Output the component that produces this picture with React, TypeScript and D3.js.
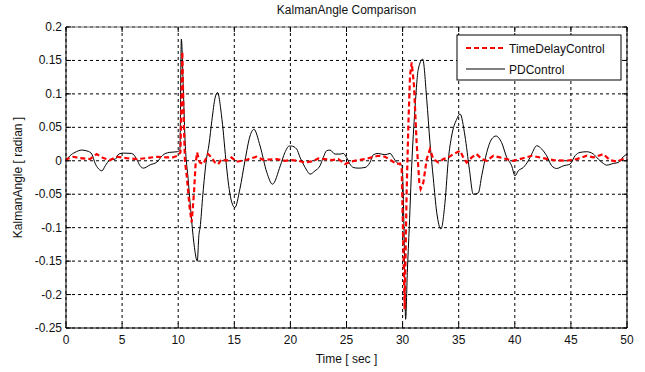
import * as d3 from "d3";

const W = 645;
const H = 372;
const margin = { top: 27, right: 18, bottom: 44, left: 66 };

// PD controller response [time, angle]
const pdTime = [
  0, 0.35, 0.8, 1.4, 2.0, 2.3, 2.6, 2.9, 3.2, 3.5, 3.9, 4.4, 4.7, 5.1, 5.85, 6.3, 6.6, 6.9, 7.5, 8.1,
  8.6, 9.2, 9.9, 10.15, 10.28, 10.45, 10.6, 10.9, 11.2, 11.45, 11.7, 11.85, 11.95, 12.2, 12.5, 12.75,
  13.0, 13.3, 13.5, 13.9, 14.3, 14.5, 14.7, 15.05, 15.5, 15.95, 16.4, 16.75, 17.3, 17.9, 18.4, 19.1,
  19.5, 19.9, 20.1, 20.56, 20.86, 21.15, 21.45, 21.75, 22.19, 22.64, 22.93, 23.23, 23.53, 23.98,
  24.42, 24.72, 25.0, 25.31, 25.6, 26.05, 26.65, 27.09, 27.39, 27.83, 28.43, 28.88, 29.17, 29.47,
  29.77, 29.95, 30.12, 30.27, 30.42, 30.6, 30.81, 31.1, 31.4, 31.79, 32.15, 32.44, 32.74, 33.04,
  33.42, 33.78, 34.08, 34.37, 34.82, 35.12, 35.56, 35.95, 36.3, 36.75, 37.05, 37.5, 37.94, 38.32,
  38.83, 39.28, 39.72, 40.02, 40.31, 40.76, 41.2, 41.5, 41.95, 42.4, 42.84, 43.29, 43.73, 44.33,
  44.92, 45.37, 45.81, 46.41, 47.0, 47.44, 47.89, 48.19, 48.78, 49.23, 49.67, 50.0,
];
const pdAngle = [
  0, 0.0075, 0.0125, 0.016, 0.014, 0.01, -0.004, -0.012, -0.015, -0.0075, 0.001, 0.0025, 0.01,
  0.0115, 0.011, 0.0025, -0.0075, -0.011, -0.006, -0.002, 0.008, 0.0125, 0.0135, 0.016, 0.182, 0.11,
  0.035, -0.03, -0.09, -0.13, -0.15, -0.11, -0.1, -0.05, 0.0, 0.025, 0.06, 0.095, 0.102, 0.062,
  -0.0075, -0.037, -0.057, -0.07, -0.042, 0.0, 0.037, 0.047, 0.022, -0.0175, -0.035, -0.0075, 0.012,
  0.022, 0.022, 0.0175, 0.005, -0.005, -0.014, -0.02, -0.015, -0.0075, 0.005, 0.015, 0.016, 0.01,
  0.01, 0.011, 0.005, -0.005, -0.01, -0.011, -0.01, -0.0025, 0.009, 0.011, 0.009, 0.011, 0.005,
  -0.0025, -0.005, -0.0075, -0.097, -0.237, -0.167, -0.097, -0.0075, 0.077, 0.137, 0.152, 0.092,
  0.027, -0.027, -0.077, -0.102, -0.062, 0.0025, 0.037, 0.062, 0.07, 0.037, -0.0125, -0.05, -0.048,
  -0.0225, 0.0125, 0.0325, 0.037, 0.027, 0.005, -0.0075, -0.0225, -0.015, -0.01, 0.0, 0.01, 0.0225,
  0.0175, 0.0075, -0.0075, -0.0115, -0.0075, -0.005, 0.0075, 0.0125, 0.0135, 0.01, 0.0025, -0.004,
  -0.0065, -0.004, -0.0025, 0.006, 0.01,
];

// Time delay controller response [time, angle]
const tdcTime = [
  0, 0.06, 0.65, 1.25, 2.14, 2.73, 3.33, 3.92, 4.52, 5.4, 6.3, 7.2, 8.08, 8.97, 9.5, 9.96, 10.2,
  10.37, 10.46, 10.6, 10.76, 11.0, 11.2, 11.41, 11.55, 11.68, 11.8, 11.93, 12.23, 12.67, 12.97,
  13.27, 13.57, 13.86, 14.31, 14.75, 15.2, 16.09, 16.98, 17.57, 18.76, 19.52, 20.1, 20.7, 21.3,
  21.9, 22.5, 23.08, 23.68, 24.27, 24.87, 25.46, 26.05, 26.65, 27.24, 27.83, 28.43, 29.02, 29.47,
  29.77, 29.92, 30.18, 30.36, 30.51, 30.66, 30.81, 31.02, 31.25, 31.49, 31.61, 31.85, 32.15, 32.44,
  32.74, 33.18, 33.63, 34.08, 34.52, 35.12, 35.41, 35.71, 36.16, 36.6, 37.05, 37.5, 38.09, 38.68,
  39.28, 39.87, 40.46, 41.5, 41.95, 42.54, 43.43, 44.62, 45.51, 46.41, 47.0, 47.89, 48.48, 49.08,
  49.67, 50,
];
const tdcAngle = [
  0, 0.0025, 0.006, 0.004, 0.0025, 0.01, 0.004, 0.001, 0.006, 0.004, 0.0025, 0.004, 0.006, 0.005,
  0.005, 0.0075, 0.0125, 0.163, 0.08, 0.0, -0.0225, -0.067, -0.092, -0.047, -0.005, 0.0125, 0.005,
  -0.0025, -0.005, 0.01, 0.005, -0.0025, -0.005, 0.0025, 0.0, 0.005, -0.0015, 0.0015, 0.006, 0.0015,
  0.0025, 0.0, 0.001, 0.0, -0.0025, -0.001, 0.0035, 0.0025, 0.001, 0.0025, -0.005, -0.001, 0.001,
  0.0025, 0.005, 0.0075, 0.006, 0.0, -0.005, -0.004, -0.0125, -0.222, -0.047, 0.052, 0.127, 0.147,
  0.112, 0.027, -0.0325, -0.042, -0.0325, 0.0025, 0.0175, 0.0025, -0.0025, 0.0025, 0.005, 0.01,
  0.015, 0.005, -0.0025, 0.005, 0.01, 0.0025, 0.0, 0.0075, 0.005, 0.0025, 0.0, 0.0025, 0.0075,
  0.006, 0.004, 0.001, 0.0, 0.0025, 0.0075, 0.005, 0.01, 0.001, -0.001, 0.0025, 0.004,
];

const xTicks = [0, 5, 10, 15, 20, 25, 30, 35, 40, 45, 50];
const yTicks = [0.2, 0.15, 0.1, 0.05, 0, -0.05, -0.1, -0.15, -0.2, -0.25];

const FONT = "'Liberation Sans', Arial, sans-serif";

export default function App() {
  const innerW = W - margin.left - margin.right;
  const innerH = H - margin.top - margin.bottom;

  const x = d3.scaleLinear().domain([0, 50]).range([0, innerW]);
  const y = d3.scaleLinear().domain([-0.25, 0.2]).range([innerH, 0]);

  const line = d3
    .line<[number, number]>()
    .x((d) => x(d[0]))
    .y((d) => y(d[1]));
  const smoothLine = line.curve(d3.curveMonotoneX);

  const pdPts = pdTime.map((t, i) => [t, pdAngle[i]] as [number, number]);
  const tdcPts = tdcTime.map((t, i) => [t, tdcAngle[i]] as [number, number]);

  const pdPath = smoothLine(pdPts) ?? "";
  const tdcPath = d3
    .line<[number, number]>()
    .x((d) => x(d[0]))
    .y((d) => y(d[1]))(tdcPts) ?? "";

  const fmt = (v: number) => (v === 0 ? "0" : String(+v.toFixed(2)));

  return (
    <svg
      width={W}
      height={H}
      style={{ position: "absolute", left: 0, top: 0, background: "#fff" }}
      fontFamily={FONT}
    >
      <text x={margin.left + innerW / 2} y={14} textAnchor="middle" fontSize={12} fill="#111">
        KalmanAngle Comparison
      </text>

      <g transform={`translate(${margin.left},${margin.top})`}>
        {/* grid */}
        {xTicks.map((t) => (
          <line key={"gx" + t} x1={x(t)} x2={x(t)} y1={0} y2={innerH} stroke="#000" strokeWidth={1} strokeDasharray="3,3" />
        ))}
        {yTicks.map((t) => (
          <line key={"gy" + t} x1={0} x2={innerW} y1={y(t)} y2={y(t)} stroke="#000" strokeWidth={1} strokeDasharray="3,3" />
        ))}

        {/* series */}
        <path d={pdPath} fill="none" stroke="#000" strokeWidth={1} />
        <path d={tdcPath} fill="none" stroke="#ff0000" strokeWidth={2.2} strokeDasharray="5,3" />

        {/* frame */}
        <line x1={0} x2={innerW} y1={0} y2={0} stroke="#777" strokeWidth={1} />
        <line x1={0} x2={0} y1={0} y2={innerH} stroke="#000" strokeWidth={1} />
        <line x1={innerW} x2={innerW} y1={0} y2={innerH} stroke="#000" strokeWidth={1} />
        <line x1={0} x2={innerW} y1={innerH} y2={innerH} stroke="#000" strokeWidth={1} />

        {/* ticks */}
        {xTicks.map((t) => (
          <g key={"tx" + t}>
            <line x1={x(t)} x2={x(t)} y1={innerH} y2={innerH - 5} stroke="#000" />
            <line x1={x(t)} x2={x(t)} y1={0} y2={5} stroke="#000" />
            <text x={x(t)} y={innerH + 16} textAnchor="middle" fontSize={12} fill="#111">
              {fmt(t)}
            </text>
          </g>
        ))}
        {yTicks.map((t) => (
          <g key={"ty" + t}>
            <line x1={0} x2={5} y1={y(t)} y2={y(t)} stroke="#000" />
            <line x1={innerW} x2={innerW - 5} y1={y(t)} y2={y(t)} stroke="#000" />
            <text x={-4} y={y(t) + 4} textAnchor="end" fontSize={12} fill="#111">
              {fmt(t)}
            </text>
          </g>
        ))}

        {/* legend */}
        <g transform={`translate(${innerW - 170},8)`}>
          <rect x={0} y={0} width={164} height={45} fill="#fff" stroke="#000" strokeWidth={1} />
          <line x1={9} x2={48} y1={13} y2={13} stroke="#ff0000" strokeWidth={2.2} strokeDasharray="5,3" />
          <text x={52} y={17.5} fontSize={12} fill="#111">TimeDelayControl</text>
          <line x1={9} x2={48} y1={34} y2={34} stroke="#000" strokeWidth={1} />
          <text x={52} y={38.5} fontSize={12} fill="#111">PDControl</text>
        </g>
      </g>

      <text x={margin.left + innerW / 2} y={H - 9} textAnchor="middle" fontSize={12} fill="#111">
        Time [ sec ]
      </text>
      <text
        transform={`translate(22,${margin.top + innerH / 2}) rotate(-90)`}
        textAnchor="middle"
        fontSize={12}
        fill="#111"
      >
        KalmanAngle [ radian ]
      </text>
    </svg>
  );
}
